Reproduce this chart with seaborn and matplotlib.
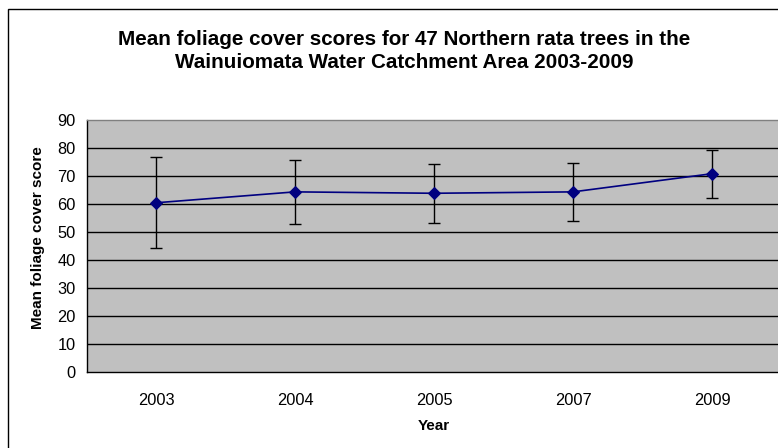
import pandas as pd
import seaborn as sns
import matplotlib.pyplot as plt
from matplotlib.patches import Rectangle
from matplotlib.ticker import FixedLocator

# Data
years = ['2003', '2004', '2005', '2007', '2009']
mean_scores = [60.4, 64.3, 63.8, 64.3, 70.8]
error = [16.3, 11.5, 10.6, 10.5, 8.6]

df = pd.DataFrame({'Year': years, 'Score': mean_scores})

sns.set_style('white')
plt.rcParams['font.family'] = ['Liberation Sans', 'DejaVu Sans']
plt.rcParams['text.color'] = 'black'
plt.rcParams['axes.labelcolor'] = 'black'
plt.rcParams['xtick.color'] = 'black'
plt.rcParams['ytick.color'] = 'black'

fig = plt.figure(figsize=(7.78, 4.48), dpi=100)
W, H = 778, 448
# plot area extends slightly past the right edge, as in the reference
ax = fig.add_axes([86.5 / W, (H - 371.7) / H, 695 / W, 251.7 / H])
ax.set_facecolor('#C0C0C0')

# outer chart frame (only left and top edges are visible)
fig.patches.append(Rectangle((8 / W, -0.5), 2.0, 1 - 9 / H + 0.5,
                             transform=fig.transFigure, fill=False,
                             edgecolor='black', linewidth=1.0))

ax.errorbar(range(len(years)), mean_scores, yerr=error, fmt='none',
            ecolor='black', elinewidth=1.0, capsize=4.5, capthick=1.0, zorder=3)
sns.lineplot(x=list(range(len(years))), y=mean_scores, color='#000080', marker='D',
             markersize=6, markeredgecolor='#000080', linewidth=1.2, ax=ax, zorder=4)

ax.set_xlim(-0.5, len(years) - 0.5)
ax.set_ylim(0, 90)
ax.set_yticks(range(0, 91, 10))
ax.set_xticks(range(len(years)))
ax.set_xticklabels(years)
ax.xaxis.set_minor_locator(FixedLocator([i - 0.5 for i in range(len(years) + 1)]))

ax.tick_params(axis='x', which='major', length=0, pad=15, labelsize=11.8)
ax.tick_params(axis='x', which='minor', length=4.5, width=1, direction='out')
ax.tick_params(axis='y', length=6, width=1, direction='out', pad=2, labelsize=11.8)

for y in range(10, 90, 10):
    ax.axhline(y, color='black', linewidth=1.0, zorder=1)

for side in ['left', 'bottom']:
    ax.spines[side].set_color('black')
    ax.spines[side].set_linewidth(1.0)
ax.spines['top'].set_color('#808080')
ax.spines['top'].set_linewidth(1.0)
ax.spines['right'].set_color('#808080')

ax.set_xlabel('Year', fontsize=11, fontweight='bold', labelpad=8)
ax.set_ylabel('Mean foliage cover score', fontsize=11, fontweight='bold', labelpad=7)
ax.yaxis.set_label_coords(-0.0604, 0.531)

fig.text(404 / W, 1 - 51 / H,
         'Mean foliage cover scores for 47 Northern rata trees in the\n'
         'Wainuiomata Water Catchment Area 2003-2009',
         ha='center', va='center', fontsize=14.9, fontweight='bold', linespacing=1.3)

fig.savefig('out.png', dpi=100)
